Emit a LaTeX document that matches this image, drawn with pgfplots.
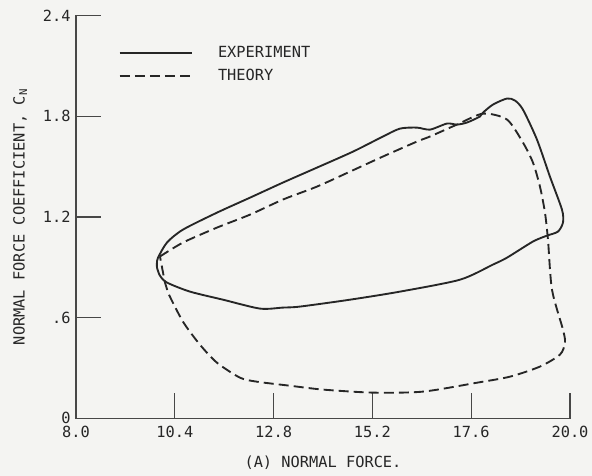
\documentclass[border=0pt]{standalone}
\usepackage{pgfplots}
\pgfplotsset{compat=1.18}
\usepackage{fontspec}
\setmainfont{DejaVu Sans Mono}
\definecolor{ink}{RGB}{38,38,38}
\definecolor{paper}{RGB}{244,244,242}

\begin{document}
\fontsize{11.5}{13}\selectfont
\begin{tikzpicture}
\path[use as bounding box, fill=paper] (-57pt,-42.75pt) rectangle (387pt,314pt);
\begin{axis}[
  at={(0,0)}, anchor=south west,
  scale only axis, width=370.5pt, height=302.5pt,
  xmin=8, xmax=20, ymin=0, ymax=2.4,
  axis x line*=bottom, axis y line*=left,
  axis line style={draw=ink!85, line width=0.9pt, -},
  xtick={8,10.4,12.8,15.2,17.6,20},
  xticklabels={8.0,10.4,12.8,15.2,17.6,20.0},
  ytick={0,0.6,1.2,1.8,2.4},
  yticklabels={\raisebox{2pt}{0},.6,1.2,1.8,2.4},
  tick align=inside, major tick length=19pt,
  tick style={draw=ink!85, line width=0.8pt},
  tick label style={text=ink},
  xticklabel style={yshift=-1.5pt},
  xlabel={(A) NORMAL FORCE.},
  ylabel={NORMAL FORCE COEFFICIENT, C\textsubscript{N}},
  xlabel style={at={(axis description cs:0.5,-0.109)}, anchor=center, text=ink},
  ylabel style={at={(axis description cs:-0.113,0.5)}, anchor=center, text=ink},
  legend style={draw=none, fill=none, text=ink,
    at={(axis description cs:0.078,0.937)}, anchor=north west,
    row sep=3pt},
  legend cell align=left,
  legend image code/.code={\draw[#1] (0pt,0pt) -- (54pt,0pt); \path (71pt,0pt);},
]
% measured loop
\addplot[draw=ink, no markers, line width=1.4pt, smooth, tension=0.45] coordinates {
 (9.967,0.930) (9.992,0.958) (10.210,1.048) (10.599,1.125) (11.425,1.226)
 (12.226,1.315) (13.028,1.405) (13.854,1.494) (14.728,1.589) (15.457,1.679)
 (15.870,1.726) (16.283,1.732) (16.599,1.720)
 (17.011,1.756) (17.254,1.750) (17.497,1.762) (17.813,1.798) (17.886,1.821)
 (18.129,1.869) (18.469,1.905) (18.663,1.893) (18.857,1.839) (19.197,1.661)
 (19.513,1.440) (19.805,1.244) (19.829,1.167) (19.707,1.113) (19.440,1.089)
 (19.100,1.054) (18.469,0.958) (18.129,0.917) (17.327,0.827) (15.870,0.756)
 (14.655,0.708) (13.441,0.667) (13.028,0.661) (12.469,0.655) (11.571,0.708)
 (10.769,0.756) (10.210,0.810) (10.040,0.851) (9.967,0.900) (9.967,0.930)
};
\addlegendentry{EXPERIMENT}
% predicted loop
\addplot[draw=ink, no markers, line width=1.4pt, smooth, tension=0.45,
  dash pattern=on 7.5pt off 3.8pt] coordinates {
 (10.040,0.965) (10.599,1.048) (11.425,1.137) (12.226,1.214) (13.028,1.304)
 (13.854,1.381) (14.655,1.470) (15.457,1.560) (16.283,1.649) (16.599,1.679)
 (17.254,1.750) (17.886,1.815) (18.469,1.780) (18.857,1.643)
 (19.100,1.524) (19.270,1.381) (19.392,1.226) (19.465,1.065) (19.562,0.768)
 (19.829,0.530) (19.878,0.452) (19.756,0.381) (19.270,0.310) (18.542,0.250)
 (17.740,0.214) (16.428,0.161) (15.214,0.155) (14.000,0.173) (13.198,0.196)
 (12.396,0.220) (11.983,0.244) (11.425,0.333) (11.012,0.440) (10.599,0.577)
 (10.235,0.750) (10.162,0.810) (10.040,0.965)
};
\addlegendentry{THEORY}
\end{axis}
\end{tikzpicture}
\end{document}
